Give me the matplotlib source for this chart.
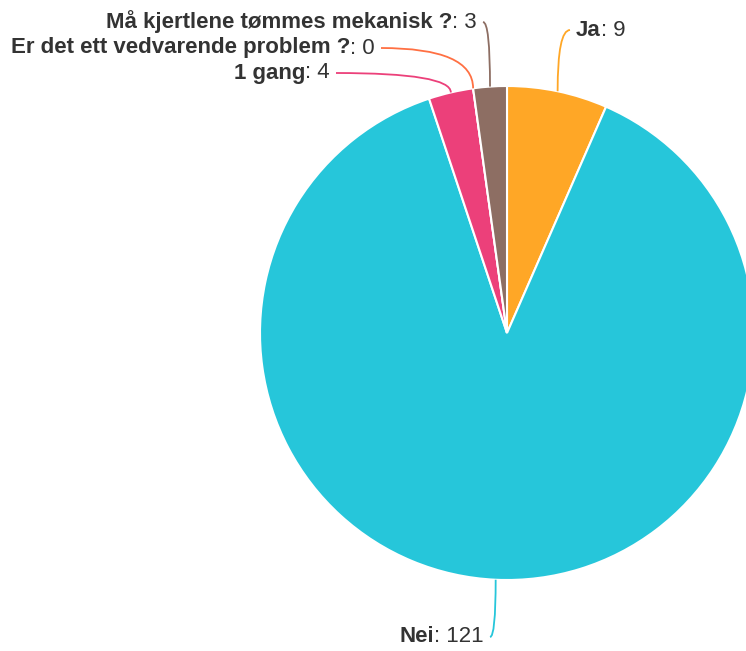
import numpy as np
import matplotlib.pyplot as plt
from matplotlib.path import Path
from matplotlib.patches import PathPatch
from matplotlib.offsetbox import TextArea, HPacker, AnnotationBbox

plt.rcParams['font.family'] = ['Liberation Sans', 'DejaVu Sans']

# Data
labels = ['Ja', 'Nei', '1 gang', 'Er det ett vedvarende problem ?', 'Må kjertlene tømmes mekanisk ?']
values = [9, 121, 4, 0, 3]
colors = ['#ffa726', '#26c6da', '#ec407a', '#ff7043', '#8d6e63']

# Label positions in pixels (x of the line end, y) and text side
label_px = [(570, 30), (490, 637), (336, 73), (381, 48), (483, 22)]
label_side = ['right', 'left', 'left', 'left', 'left']

W, H = 746, 651
cx, cy, R = 507, 333, 247

fig = plt.figure(figsize=(W / 100, H / 100), dpi=100)
ax = fig.add_axes([0, 0, 1, 1])

ax.pie(values, colors=colors, startangle=90, counterclock=False, radius=1,
       wedgeprops=dict(edgecolor='white', linewidth=1.5))

ax.set_xlim(-cx / R, (W - cx) / R)
ax.set_ylim(-(H - cy) / R, cy / R)
ax.set_aspect('equal')
ax.axis('off')

def to_data(px, py):
    return (px - cx) / R, (cy - py) / R

total = sum(values)
start = 90.0
for lab, val, col, (lx, ly), side in zip(labels, values, colors, label_px, label_side):
    sweep = val / total * 360
    mid = np.radians(start - sweep / 2)
    start -= sweep
    ex, ey = np.cos(mid), np.sin(mid)
    tx, ty = to_data(lx, ly)
    verts = [(ex, ey), (ex, ty), (tx, ty)]
    path = Path(verts, [Path.MOVETO, Path.CURVE3, Path.CURVE3])
    ax.add_patch(PathPatch(path, fc='none', ec=col, lw=1.3))

    t1 = TextArea(lab, textprops=dict(fontsize=16, fontweight='bold', color='#333333'))
    t2 = TextArea(': %d' % val, textprops=dict(fontsize=16, color='#333333'))
    box = HPacker(children=[t1, t2], align='baseline', pad=0, sep=0)
    if side == 'left':
        xy = (tx - 6 / R, ty)
        align = (1.0, 0.5)
    else:
        xy = (tx + 6 / R, ty)
        align = (0.0, 0.5)
    ab = AnnotationBbox(box, xy, xycoords='data', box_alignment=align, frameon=False, pad=0)
    ax.add_artist(ab)

fig.savefig('out.png', dpi=100)
